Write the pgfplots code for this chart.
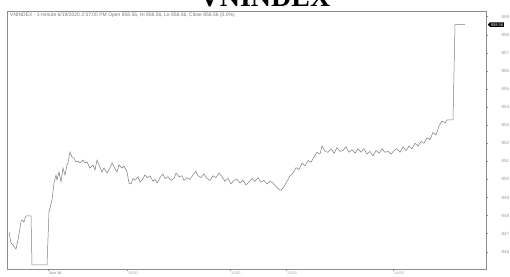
\documentclass[border=0pt]{standalone}
\usepackage{fontspec}
\setmainfont{Liberation Sans}
\newfontfamily\titlefont{Liberation Serif}
\usepackage{pgfplots}
\pgfplotsset{compat=1.18}
\usetikzlibrary{shapes.symbols}
\definecolor{framegray}{HTML}{8C8C8C}
\definecolor{linegray}{HTML}{7C7C7C}
\definecolor{labgray}{HTML}{9A9A9A}
\definecolor{headgray}{HTML}{7A7A7A}
\begin{document}
\begin{tikzpicture}
\useasboundingbox (0,0) rectangle (510pt,276pt);
\begin{axis}[
  at={(7pt,7pt)}, anchor=south west,
  scale only axis, width=479pt, height=258pt,
  xmin=7, xmax=486, ymin=845.045, ymax=859.315,
  axis line style={framegray, line width=0.7pt},
  xtick={48,127,230,286,393},
  xticklabels={\textbf{Jun 19},10:00,11:00,13:00,14:00},
  ytick={846,847,848,849,850,851,852,853,854,855,856,857,858,859},
  yticklabel pos=right, ytick pos=right, xtick pos=lower,
  tick align=outside, major tick length=2pt,
  tick style={framegray, line width=0.4pt},
  yticklabel style={font=\fontsize{4.5}{5}\selectfont, text=labgray, anchor=west, xshift=10pt},
  xticklabel style={font=\fontsize{3.8}{4.5}\selectfont, text=labgray, anchor=north west, inner sep=0pt, xshift=1pt, yshift=-0.8pt},
  /pgf/number format/assume math mode=true,
  clip=false,
]
\addplot[linegray, line width=0.5pt, mark=none] coordinates {
(9,847.09)(11,846.48)(13,846.37)(16,846.15)(18,846.65)(21,847.65)(22,847.76)(24,847.65)(26,847.98)(31,847.98)
(32,845.27)(47,845.27)(49,848.20)(52,848.86)(54,849.80)(56,850.24)(57,849.97)(59,850.41)(61,849.86)(63,850.63)
(65,850.24)(67,850.80)(68,850.91)(70,851.52)(72,851.24)(74,851.18)(76,850.96)(78,851.02)(80,850.91)(83,851.07)
(85,850.91)(87,850.96)(90,850.63)(93,850.80)(95,850.52)(97,851.07)(99,850.80)(102,850.41)(104,850.63)(107,850.35)
(109,850.52)(112,850.91)(114,850.69)(117,850.41)(119,850.80)(122,850.63)(124,850.74)(127,850.41)(129,849.80)
(131,849.75)(133,850.05)(135,849.95)(138,850.15)(140,849.85)(142,849.95)(145,850.25)(147,850.10)(150,850.20)(153,849.90)
(155,850.00)(157,849.80)(160,850.10)(163,850.30)(165,850.05)(168,850.15)(171,849.95)(174,850.05)(176,850.35)(179,850.15)
(182,850.20)(184,849.95)(187,850.10)(190,850.00)(193,850.25)(196,850.45)(198,850.20)(201,850.10)(204,850.30)(207,850.05)
(210,849.95)(213,850.20)(216,850.10)(219,850.35)(222,850.15)(225,849.90)(228,850.05)(231,849.75)(234,849.95)(237,850.00)
(240,849.80)(243,849.95)(246,849.70)(249,849.85)(252,850.05)(255,849.90)(258,850.10)(261,849.85)(264,849.95)(267,849.75)
(270,849.90)(273,849.80)(276,849.60)(279,849.45)(281,849.40)(284,849.60)(287,849.90)(290,850.20)(293,850.35)(296,850.65)
(299,850.55)(302,850.90)(305,850.75)(308,851.05)(311,850.95)(314,851.25)(317,851.50)(320,851.40)(322,851.85)(325,851.55)
(328,851.50)(331,851.70)(334,851.45)(337,851.75)(340,851.55)(343,851.60)(346,851.80)(349,851.50)(352,851.65)(355,851.45)
(358,851.70)(361,851.50)(364,851.70)(367,851.40)(370,851.55)(373,851.30)(376,851.60)(379,851.45)(382,851.70)(385,851.50)
(388,851.55)(391,851.40)(394,851.60)(397,851.70)(400,851.50)(403,851.80)(406,851.60)(409,851.85)(412,851.70)(415,852.00)
(418,851.85)(421,852.10)(424,852.00)(427,852.30)(430,852.20)(433,852.60)(436,852.45)(439,852.95)(442,853.23)(445,853.12)
(447,853.29)(453,853.29)(455,858.56)(465,858.56)
};
\coordinate (tag) at (axis cs:486,858.56);
\end{axis}
\node[signal, signal to=west, fill=black, text=white, font=\fontsize{4}{5}\selectfont,
      inner sep=0.8pt, anchor=west] at ([xshift=1.5pt]tag) {858.56};
\node[anchor=base, font=\titlefont\bfseries\fontsize{28}{30}\selectfont] at (265pt,269.3pt) {VNINDEX};
\node[anchor=west, font=\fontsize{5}{6}\selectfont, text=headgray, inner sep=0pt] at (10pt,261pt)
  {VNINDEX - 1-minute 6/19/2020 2:57:00 PM Open 858.56, Hi 858.56, Lo 858.56, Close 858.56 (0.0\%)};
\end{tikzpicture}
\end{document}
